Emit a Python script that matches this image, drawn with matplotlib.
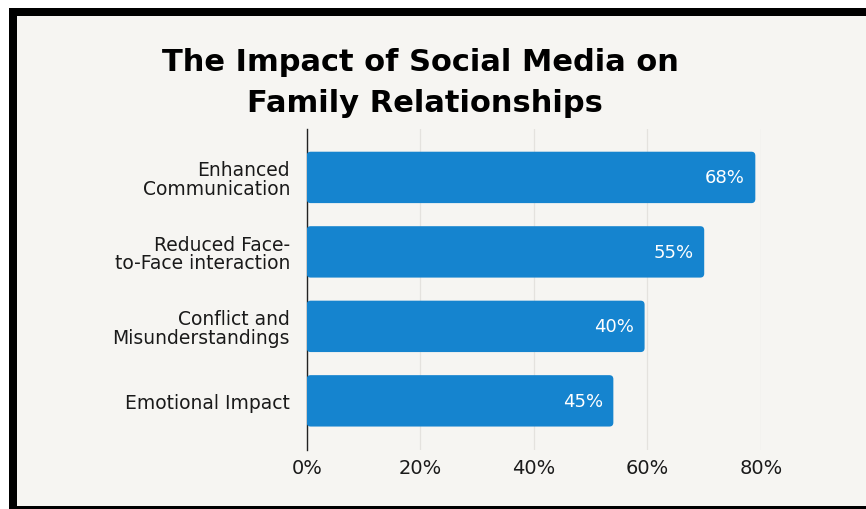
import matplotlib.pyplot as plt
from matplotlib.patches import Rectangle, FancyBboxPatch

# data
categorias = ['Enhanced\nCommunication', 'Reduced Face-\nto-Face interaction',
              'Conflict and\nMisunderstandings', 'Emotional Impact']
lungime_bare = [79, 70, 59.5, 54]          # bar length on the % axis
etichete = ['68%', '55%', '40%', '45%']    # text printed on the bars
ticks_x = [0, 20, 40, 60, 80]
titlu = ['The Impact of Social Media on', 'Family Relationships']

albastru = '#1584CF'
fundal = '#F6F5F2'

plt.rcParams['font.family'] = ['DejaVu Sans']

fig = plt.figure(figsize=(8.66, 5.10), dpi=100)
fig.patch.set_facecolor('white')
W, H = 866, 510

# black frame + light inner panel
fig.add_artist(Rectangle((9 / W, 0), 1, (H - 9) / H, transform=fig.transFigure,
                         facecolor='black', edgecolor='none', zorder=-2))
fig.add_artist(Rectangle((17 / W, 3 / H), 1, (H - 17 - 3) / H, transform=fig.transFigure,
                         facecolor=fundal, edgecolor='none', zorder=-1))

ax = fig.add_axes([306.7 / W, (H - 451) / H, (761 - 306.7) / W, (451 - 130) / H])
ax.set_facecolor('none')

y = list(range(len(categorias)))
bare = ax.barh(y, lungime_bare, height=0.69, color=albastru)

# rounded corners: swap each bar for a fancy box with the same bounds
for b in bare:
    x0, y0 = b.get_x(), b.get_y()
    w, h = b.get_width(), b.get_height()
    b.set_visible(False)
    ax.add_patch(FancyBboxPatch((x0, y0), w, h,
                                boxstyle='round,pad=0,rounding_size=0.7',
                                mutation_aspect=0.077,
                                facecolor=albastru, edgecolor='none', zorder=3))

for yi, val, txt in zip(y, lungime_bare, etichete):
    ax.text(val - 1.8, yi, txt, ha='right', va='center', color='white',
            fontsize=13, zorder=4)

ax.set_xlim(0, 80)
ax.set_ylim(3.66, -0.65)
ax.set_xticks(ticks_x)
ax.set_xticklabels([f'{t}%' for t in ticks_x], fontsize=14, color='#1a1a1a')
ax.set_yticks(y)
ax.set_yticklabels(categorias, fontsize=13.5, color='#1a1a1a', linespacing=0.95)
for lbl in ax.get_yticklabels():
    lbl.set_horizontalalignment('right')
    lbl.set_multialignment('right')

ax.tick_params(axis='both', length=0)
ax.tick_params(axis='y', pad=12)
ax.tick_params(axis='x', pad=6)

ax.grid(axis='x', color='#E4E2DE', linewidth=0.9)
ax.set_axisbelow(True)
for s in ['top', 'right', 'bottom']:
    ax.spines[s].set_visible(False)
ax.spines['left'].set_color('#222222')
ax.spines['left'].set_linewidth(1.0)

fig.text(420 / W, 1 - 71 / H, titlu[0], ha='center', va='baseline',
         fontsize=22, fontweight='bold', color='black')
fig.text(425 / W, 1 - 112 / H, titlu[1], ha='center', va='baseline',
         fontsize=22, fontweight='bold', color='black')

plt.savefig('out.png', dpi=100, facecolor=fig.get_facecolor())
